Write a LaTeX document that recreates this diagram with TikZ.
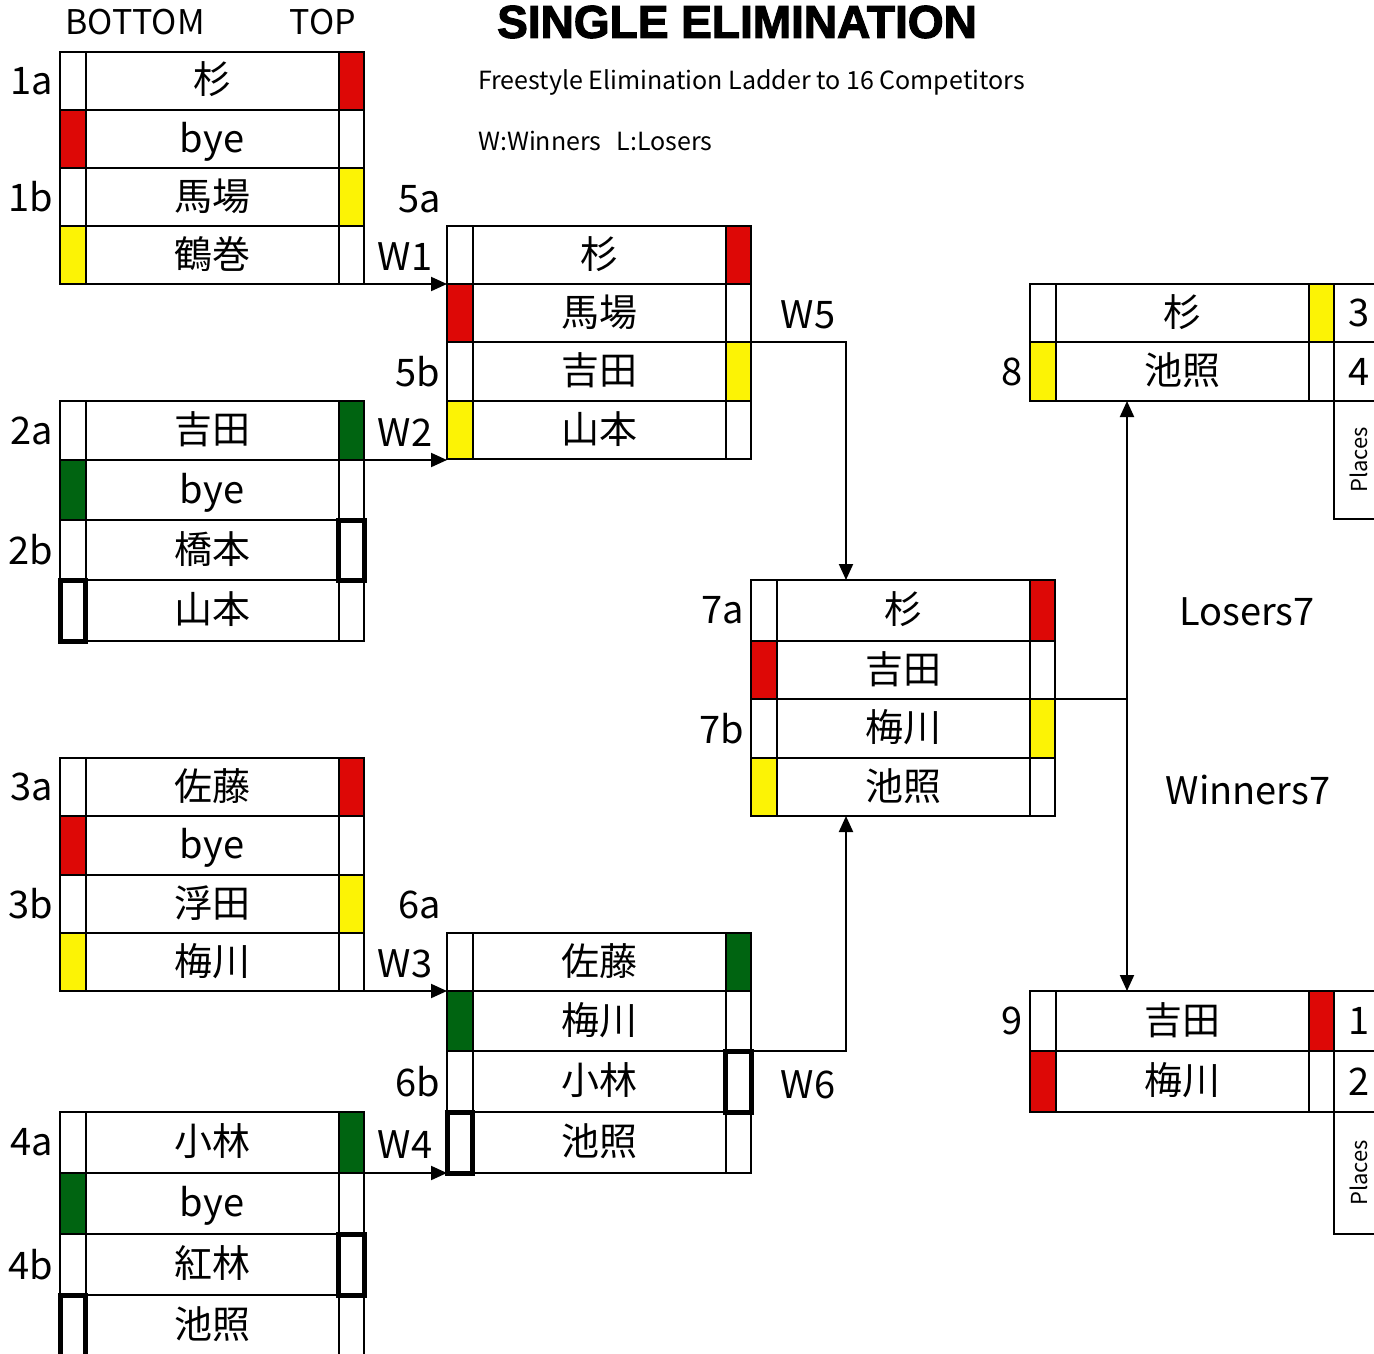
\documentclass[tikz,border=0pt]{standalone}
\usepackage{fontspec}
\setmainfont{Noto Sans CJK JP}
\newfontfamily\titlefont[FakeBold=2.5]{Liberation Sans}
\usepackage{tikz}
\usetikzlibrary{arrows.meta, positioning}

\definecolor{markred}{RGB}{221,8,6}
\definecolor{markyellow}{RGB}{252,243,5}
\definecolor{markgreen}{RGB}{0,100,17}

% one row of a match: bottom side cell, name cell, top side cell
\newcommand{\seat}[7]{%
  \node[namecell, minimum height=#4pt, anchor=north west] (#1) at (#2+25.5,#3) {#5};
  \node[sidecell, minimum height=#4pt, anchor=north east, #6] (#1-bot) at (#1.north west) {};
  \node[sidecell, minimum height=#4pt, anchor=north west, #7] (#1-top) at (#1.north east) {};
}

\begin{document}
\begin{tikzpicture}[
    x=1pt, y=-1pt,
    namecell/.style={rectangle, draw, line width=2pt, inner sep=0pt, outer sep=0pt,
      minimum width=253pt, text height=30pt, text depth=4pt, font=\fontsize{38}{40}\selectfont},
    sidecell/.style={rectangle, draw, line width=2pt, inner sep=0pt, outer sep=0pt, minimum width=25.5pt},
    redmark/.style={fill=markred},
    yelmark/.style={fill=markyellow},
    grnmark/.style={fill=markgreen},
    openmark/.style={line width=5pt},
    placecell/.style={rectangle, draw, line width=2pt, inner sep=0pt, outer sep=0pt,
      minimum width=50pt, font=\fontsize{38}{40}\selectfont},
    seatlbl/.style={inner sep=0pt, font=\fontsize{38}{40}\selectfont},
    headlbl/.style={inner sep=0pt, font=\fontsize{34}{36}\selectfont},
    notelbl/.style={inner sep=0pt, anchor=west, font=\fontsize{25}{28}\selectfont},
    wline/.style={-{Triangle[length=16pt,width=14pt]}, line width=2pt},
    tieline/.style={line width=1.5pt}
  ]
  \useasboundingbox (0,0) rectangle (1374,1354);

  % headings
  \node[inner sep=0pt, font=\titlefont\bfseries\fontsize{46}{48}\selectfont] (title) at (737,22) {SINGLE ELIMINATION};
  \node[notelbl] (subtitle) at (478,82) {Freestyle Elimination Ladder to 16 Competitors};
  \node[notelbl] (legend) at (478,141) {W:Winners\hspace{0.6em}L:Losers};
  \node[headlbl] (bottomhead) at (135,22) {BOTTOM};
  \node[headlbl] (tophead) at (323,22) {TOP};

  % first round
  \seat{m1a}{60}{52}{58}{杉}{}{redmark}
  \seat{m1b}{60}{110}{58}{bye}{redmark}{}
  \seat{m1c}{60}{168}{58}{馬場}{}{yelmark}
  \seat{m1d}{60}{226}{58}{鶴巻}{yelmark}{}

  \seat{m2a}{60}{401}{59}{吉田}{}{grnmark}
  \seat{m2b}{60}{460}{60}{bye}{grnmark}{}
  \seat{m2c}{60}{520}{60}{橋本}{}{openmark}
  \seat{m2d}{60}{580}{61}{山本}{openmark}{}

  \seat{m3a}{60}{758}{58}{佐藤}{}{redmark}
  \seat{m3b}{60}{816}{59}{bye}{redmark}{}
  \seat{m3c}{60}{875}{58}{浮田}{}{yelmark}
  \seat{m3d}{60}{933}{58}{梅川}{yelmark}{}

  \seat{m4a}{60}{1112}{61}{小林}{}{grnmark}
  \seat{m4b}{60}{1173}{61}{bye}{grnmark}{}
  \seat{m4c}{60}{1234}{61}{紅林}{}{openmark}
  \seat{m4d}{60}{1295}{61}{池照}{openmark}{}

  % second round
  \seat{m5a}{447}{226}{58}{杉}{}{redmark}
  \seat{m5b}{447}{284}{58}{馬場}{redmark}{}
  \seat{m5c}{447}{342}{59}{吉田}{}{yelmark}
  \seat{m5d}{447}{401}{58}{山本}{yelmark}{}

  \seat{m6a}{447}{933}{58}{佐藤}{}{grnmark}
  \seat{m6b}{447}{991}{60}{梅川}{grnmark}{}
  \seat{m6c}{447}{1051}{61}{小林}{}{openmark}
  \seat{m6d}{447}{1112}{61}{池照}{openmark}{}

  % semi final
  \seat{m7a}{751}{580}{61}{杉}{}{redmark}
  \seat{m7b}{751}{641}{58}{吉田}{redmark}{}
  \seat{m7c}{751}{699}{59}{梅川}{}{yelmark}
  \seat{m7d}{751}{758}{58}{池照}{yelmark}{}

  % finals
  \seat{m8a}{1030}{284}{58}{杉}{}{yelmark}
  \seat{m8b}{1030}{342}{59}{池照}{yelmark}{}
  \seat{m9a}{1030}{991}{60}{吉田}{}{redmark}
  \seat{m9b}{1030}{1051}{61}{梅川}{redmark}{}

  % places
  \node[placecell, minimum height=58pt, anchor=north west] (p3) at (m8a-top.north east) {3};
  \node[placecell, minimum height=59pt, anchor=north west] (p4) at (m8b-top.north east) {4};
  \node[placecell, minimum height=118pt, anchor=north west, font=\fontsize{22}{24}\selectfont] (places8) at (p4.south west) {\rotatebox{90}{Places}};
  \node[placecell, minimum height=60pt, anchor=north west] (p1) at (m9a-top.north east) {1};
  \node[placecell, minimum height=61pt, anchor=north west] (p2) at (m9b-top.north east) {2};
  \node[placecell, minimum height=122pt, anchor=north west, font=\fontsize{22}{24}\selectfont] (places9) at (p2.south west) {\rotatebox{90}{Places}};

  % seat labels
  \node[seatlbl, left=7pt of m1a-bot] (l1a) {1a};
  \node[seatlbl, left=7pt of m1c-bot] (l1b) {1b};
  \node[seatlbl, left=7pt of m2a-bot] (l2a) {2a};
  \node[seatlbl, left=7pt of m2c-bot] (l2b) {2b};
  \node[seatlbl, left=7pt of m3a-bot] (l3a) {3a};
  \node[seatlbl, left=7pt of m3c-bot] (l3b) {3b};
  \node[seatlbl, left=7pt of m4a-bot] (l4a) {4a};
  \node[seatlbl, left=7pt of m4c-bot] (l4b) {4b};
  \node[seatlbl] (l5a) at (420,199) {5a};
  \node[seatlbl, left=7pt of m5c-bot] (l5b) {5b};
  \node[seatlbl] (l6a) at (420,905) {6a};
  \node[seatlbl, left=7pt of m6c-bot] (l6b) {6b};
  \node[seatlbl, left=7pt of m7a-bot] (l7a) {7a};
  \node[seatlbl, left=7pt of m7c-bot] (l7b) {7b};
  \node[seatlbl, left=7pt of m8b-bot] (l8) {8};
  \node[seatlbl, left=7pt of m9a-bot] (l9) {9};

  % winner labels
  \node[seatlbl] (w1) at (405,257) {W1};
  \node[seatlbl] (w2) at (405,433) {W2};
  \node[seatlbl] (w3) at (405,964) {W3};
  \node[seatlbl] (w4) at (405,1145) {W4};
  \node[seatlbl] (w5) at (808,315) {W5};
  \node[seatlbl] (w6) at (808,1085) {W6};
  \node[seatlbl] (losers7) at (1247,612) {Losers7};
  \node[seatlbl] (winners7) at (1248,790) {Winners7};

  % winner edges
  \draw[wline] (m1d-top.south east) -- (m5a-bot.south west);
  \draw[wline] (m2a-top.south east) -- (m2a-top.south east -| m5d-bot.west);
  \draw[wline] (m3d-top.south east) -- (m6a-bot.south west);
  \draw[wline] (m4a-top.south east) -- (m4a-top.south east -| m6d-bot.west);
  \coordinate (w5bend) at (846,342);
  \draw[wline] (m5b-top.south east) -- (w5bend) -- (w5bend |- m7a.north);
  \coordinate (w6bend) at (846,1051);
  \draw[wline] (m6b-top.south east) -- (w6bend) -- (w6bend |- m7d.south);

  % semi final split
  \coordinate (split7) at (1127,699);
  \draw[tieline] (m7b-top.south east) -- (split7);
  \draw[wline] (split7) -- (split7 |- m8b.south);
  \draw[wline] (split7) -- (split7 |- m9a.north);

\end{tikzpicture}
\end{document}
